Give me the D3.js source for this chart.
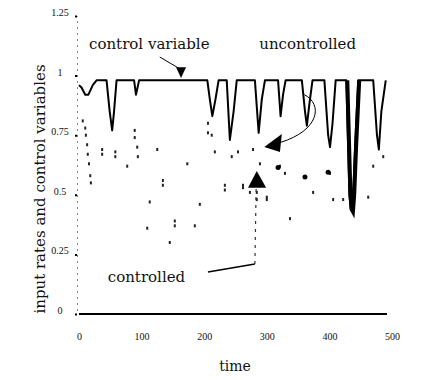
<!DOCTYPE html>
<html>
<head>
<meta charset="utf-8">
<script src="https://cdn.jsdelivr.net/npm/d3@7"></script>
<style>
body { margin: 0; background: #fff; }
text { font-family: "DejaVu Serif", serif; fill: #111; }
</style>
</head>
<body>
<div id="chart"></div>
<script>
// axis ticks
let xTicks = [0, 100, 200, 300, 400, 500];
let yTicks = [0, 0.25, 0.5, 0.75, 1, 1.25];

// control variable (solid, near 1 with downward spikes)
let controlTime  = [0, 4, 10, 15, 22, 28, 44, 49, 53, 56, 60, 88, 91, 96, 205, 209, 213, 218, 223, 236, 241, 247, 252, 281, 287, 292, 297, 318, 322, 326, 330, 356, 361, 364, 368, 373, 392, 398, 401, 405, 410, 427, 432, 434, 436, 438, 441, 446, 470, 476, 479, 483, 490];
let controlValue = [0.96, 0.95, 0.92, 0.92, 0.96, 0.98, 0.98, 0.85, 0.77, 0.85, 0.98, 0.98, 0.92, 0.98, 0.98, 0.9, 0.83, 0.9, 0.98, 0.98, 0.73, 0.85, 0.98, 0.98, 0.76, 0.9, 0.98, 0.98, 0.83, 0.92, 0.98, 0.98, 0.85, 0.79, 0.88, 0.98, 0.98, 0.75, 0.7, 0.8, 0.98, 0.98, 0.5, 0.44, 0.43, 0.5, 0.7, 0.98, 0.98, 0.75, 0.69, 0.85, 0.98];

// uncontrolled input rate (faint, mostly lost in the scan)
let uncontrolledTime  = [6, 10, 11, 13, 14, 16, 18, 19, 37, 37, 58, 58, 89, 89, 93, 94, 125, 173, 206, 206, 212, 217, 244, 254, 278, 289, 321, 329, 401, 470, 486];
let uncontrolledValue = [0.81, 0.78, 0.75, 0.71, 0.67, 0.63, 0.58, 0.55, 0.69, 0.67, 0.68, 0.66, 0.77, 0.74, 0.70, 0.66, 0.69, 0.63, 0.80, 0.76, 0.75, 0.68, 0.66, 0.68, 0.69, 0.63, 0.62, 0.59, 0.59, 0.62, 0.66];

// controlled input rate
let controlledTime  = [77, 134, 134, 113, 109, 153, 153, 145, 185, 233, 233, 262, 262, 273, 284, 284, 300, 300, 193, 337, 422, 462, 374, 406];
let controlledValue = [0.62, 0.56, 0.54, 0.47, 0.36, 0.39, 0.37, 0.30, 0.37, 0.54, 0.52, 0.54, 0.53, 0.51, 0.51, 0.48, 0.49, 0.48, 0.46, 0.40, 0.48, 0.49, 0.51, 0.48];

// bigger blobs where the traces overlap
let blobTime  = [318, 361, 398];
let blobValue = [0.615, 0.575, 0.595];

let width = 421, height = 380;
let x = d3.scaleLinear().domain([0, 500]).range([79, 392]);
let y = d3.scaleLinear().domain([0, 1.25]).range([314, 16]);

let svg = d3.select('#chart').append('svg')
    .attr('width', width)
    .attr('height', height);

// y axis: dotted spine with small dot ticks
let yAxis = svg.append('g')
    .attr('transform', 'translate(77,0)')
    .call(d3.axisLeft(y).tickValues(yTicks).tickFormat(d => d).tickSize(2));
yAxis.select('.domain').attr('stroke', '#888').attr('stroke-dasharray', '2,4');
yAxis.selectAll('.tick line').attr('stroke', '#000').attr('stroke-width', 2);
yAxis.selectAll('.tick text')
    .attr('x', -17).attr('dy', '-0.05em')
    .style('text-anchor', 'middle')
    .style('font-family', '"Liberation Serif", serif')
    .style('font-size', '10px');

// x axis labels only, the baseline is drawn separately
let xAxis = svg.append('g')
    .attr('transform', 'translate(0,330)')
    .call(d3.axisBottom(x).tickValues(xTicks).tickSize(0));
xAxis.select('.domain').remove();
xAxis.selectAll('.tick text')
    .style('font-family', '"Liberation Serif", serif')
    .style('font-size', '10px');

// baseline at zero
svg.append('line')
    .attr('x1', x(0)).attr('x2', x(492))
    .attr('y1', y(0)).attr('y2', y(0))
    .attr('stroke', '#000').attr('stroke-width', 2);

// control variable line
let controlData = controlTime.map((t, i) => [t, controlValue[i]]);
svg.append('path')
    .datum(controlData)
    .attr('fill', 'none')
    .attr('stroke', '#000')
    .attr('stroke-width', 2)
    .attr('stroke-linejoin', 'round')
    .attr('d', d3.line().x(d => x(d[0])).y(d => y(d[1])));

// the heavy spike near t=436 is drawn twice over in the scan
svg.append('path')
    .datum(controlData.filter(d => d[0] >= 427 && d[0] <= 446))
    .attr('fill', 'none')
    .attr('stroke', '#000')
    .attr('stroke-width', 4)
    .attr('d', d3.line().x(d => x(d[0]) + 1).y(d => y(d[1])));

// faint traces as specks
svg.append('g').selectAll('rect')
    .data(uncontrolledTime.map((t, i) => [t, uncontrolledValue[i]]))
    .enter().append('rect')
    .attr('x', d => x(d[0]) - 1)
    .attr('y', d => y(d[1]) - 1.5)
    .attr('width', 2).attr('height', 3)
    .attr('fill', '#222');

svg.append('g').selectAll('rect')
    .data(controlledTime.map((t, i) => [t, controlledValue[i]]))
    .enter().append('rect')
    .attr('x', d => x(d[0]) - 1)
    .attr('y', d => y(d[1]) - 1.5)
    .attr('width', 2).attr('height', 3)
    .attr('fill', '#222');

svg.append('g').selectAll('circle')
    .data(blobTime.map((t, i) => [t, blobValue[i]]))
    .enter().append('circle')
    .attr('cx', d => x(d[0]))
    .attr('cy', d => y(d[1]))
    .attr('r', 2.5)
    .attr('fill', '#000');

// annotations
function tri(points) {
    svg.append('path')
        .attr('d', 'M' + points.map(p => x(p[0]) + ',' + y(p[1])).join('L') + 'Z')
        .attr('fill', '#000');
}

svg.append('text').attr('x', x(16)).attr('y', y(1.11))
    .style('font-size', '15px').text('control variable');
svg.append('line')
    .attr('x1', x(129)).attr('y1', y(1.078))
    .attr('x2', x(160)).attr('y2', y(1.03))
    .attr('stroke', '#000').attr('stroke-width', 1);
tri([[155, 1.035], [171, 1.035], [163, 0.99]]);

svg.append('text').attr('x', x(288)).attr('y', y(1.11))
    .style('font-size', '15px').text('uncontrolled');
svg.append('path')
    .attr('d', 'M' + x(360) + ',' + y(0.92) +
        'C' + x(390) + ',' + y(0.88) + ' ' + x(384) + ',' + y(0.77) + ' ' + x(322) + ',' + y(0.72))
    .attr('fill', 'none').attr('stroke', '#000').attr('stroke-width', 1);
tri([[324, 0.755], [321, 0.68], [296, 0.70]]);

svg.append('text').attr('x', x(46)).attr('y', y(0.134))
    .style('font-size', '15px').text('controlled');
svg.append('line')
    .attr('x1', x(206)).attr('y1', y(0.176))
    .attr('x2', x(281)).attr('y2', y(0.21))
    .attr('stroke', '#000').attr('stroke-width', 1.5);
svg.append('line')
    .attr('x1', x(281)).attr('y1', y(0.21))
    .attr('x2', x(283)).attr('y2', y(0.53))
    .attr('stroke', '#333').attr('stroke-width', 1.2).attr('stroke-dasharray', '3,5');
tri([[270, 0.53], [299, 0.53], [284, 0.60]]);

// axis titles
svg.append('text')
    .attr('x', 235).attr('y', 371)
    .style('text-anchor', 'middle').style('font-size', '14px')
    .text('time');
svg.append('text')
    .attr('transform', 'translate(45,189) rotate(-90)')
    .style('text-anchor', 'middle').style('font-size', '15px')
    .text('input rates and control variables');
</script>
</body>
</html>
